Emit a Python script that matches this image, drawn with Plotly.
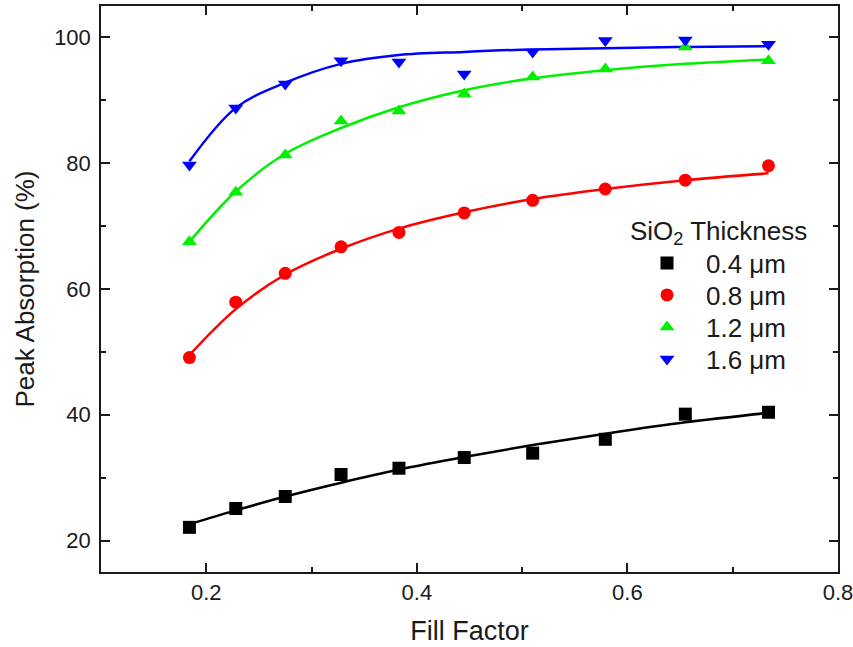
import plotly.graph_objects as go

# Fill factor of each sample
fill_factor = [0.184, 0.228, 0.275, 0.328, 0.383, 0.445, 0.510, 0.579, 0.655, 0.734]

# Measured peak absorption (%) for each SiO2 thickness
abs_04 = [22.1, 25.1, 27.0, 30.5, 31.5, 33.2, 33.9, 36.1, 40.1, 40.4]
abs_08 = [49.1, 57.9, 62.5, 66.7, 69.0, 72.1, 74.1, 75.9, 77.3, 79.6]
abs_12 = [67.5, 75.4, 81.3, 86.7, 88.3, 91.0, 93.7, 95.0, 98.5, 96.3]
abs_16 = [79.7, 88.8, 92.6, 96.3, 96.1, 94.2, 97.7, 99.5, 99.6, 98.9]

# Fitted trend curves evaluated at the same fill factors
fit_04 = [22.6, 24.8, 27.0, 29.2, 31.3, 33.3, 35.2, 37.0, 38.8, 40.3]
fit_08 = [49.5, 56.8, 62.3, 66.4, 69.6, 72.2, 74.3, 75.9, 77.3, 78.4]
fit_12 = [67.5, 75.5, 81.5, 85.6, 88.9, 91.6, 93.5, 94.8, 95.8, 96.5]
fit_16 = [80.3, 88.8, 92.8, 95.8, 97.2, 97.7, 98.1, 98.3, 98.5, 98.6]

labels = ["0.4 \u03bcm", "0.8 \u03bcm", "1.2 \u03bcm", "1.6 \u03bcm"]
colors = ["#000000", "#ff0000", "#00f000", "#0000ff"]
symbols = ["square", "circle", "triangle-up", "triangle-down"]
measured = [abs_04, abs_08, abs_12, abs_16]
fits = [fit_04, fit_08, fit_12, fit_16]

FONT = "Liberation Sans, Arial, sans-serif"
INK = "#1a1a1a"

# plot-area geometry in pixels (used to place legend rows)
W, H = 853, 647
ML, MR, MT, MB = 101, 15, 6, 75
PLOT_W = W - ML - MR
PLOT_H = H - MT - MB
legend_left_px = 628
legend_rows_px = [263, 295, 327, 359]

fig = go.Figure()

for fit, col in zip(fits, colors):
    fig.add_trace(go.Scatter(
        x=fill_factor, y=fit, mode="lines",
        line=dict(color=col, width=2.5, shape="spline", smoothing=1.0),
        showlegend=False, hoverinfo="skip",
    ))

legend_ids = ["legend", "legend2", "legend3", "legend4"]
for vals, col, sym, lab, lid in zip(measured, colors, symbols, labels, legend_ids):
    fig.add_trace(go.Scatter(
        x=fill_factor, y=vals, mode="markers", name=lab,
        marker=dict(color=col, symbol=sym, size=13, line=dict(width=0)),
        legend=lid,
    ))

axis_common = dict(
    showline=True, linecolor=INK, linewidth=1.5, mirror="ticks",
    ticks="inside", ticklen=9, tickwidth=1.5, tickcolor=INK,
    showgrid=False, zeroline=False, automargin=False,
    tickfont=dict(family=FONT, size=22, color=INK),
    ticklabeloverflow="allow",
)

fig.update_xaxes(
    range=[0.1, 0.80001], tick0=0.2, dtick=0.2, tickformat=".1f",
    minor=dict(ticks="inside", ticklen=5, dtick=0.1, tick0=0.1, tickcolor=INK, tickwidth=1.5),
    title=dict(text="Fill Factor", standoff=17, font=dict(family=FONT, size=27, color=INK)),
    **axis_common,
)
fig.update_yaxes(
    range=[15, 105], tick0=20, dtick=20,
    minor=dict(ticks="inside", ticklen=5, dtick=10, tick0=10, tickcolor=INK, tickwidth=1.5),
    title=dict(text="Peak Absorption (%)", standoff=12, font=dict(family=FONT, size=26, color=INK)),
    ticklabelstandoff=4,
    **axis_common,
)

fig.add_annotation(
    text="SiO<sub>2</sub> Thickness", xref="paper", yref="paper",
    x=(628 - ML) / PLOT_W, y=(MT + PLOT_H - 233) / PLOT_H,
    xanchor="left", yanchor="middle", showarrow=False,
    font=dict(family=FONT, size=26, color=INK),
)

layout_legends = {}
for lid, row in zip(legend_ids, legend_rows_px):
    layout_legends[lid] = dict(
        x=(legend_left_px - ML) / PLOT_W, y=(MT + PLOT_H - row) / PLOT_H,
        xanchor="left", yanchor="middle",
        bgcolor="rgba(0,0,0,0)", borderwidth=0,
        font=dict(family=FONT, size=26, color=INK),
        itemwidth=68,
    )

fig.update_layout(
    width=W, height=H,
    margin=dict(l=ML, r=MR, t=MT, b=MB, autoexpand=False),
    paper_bgcolor="white", plot_bgcolor="white",
    **layout_legends,
)

fig.write_html("out.html")
